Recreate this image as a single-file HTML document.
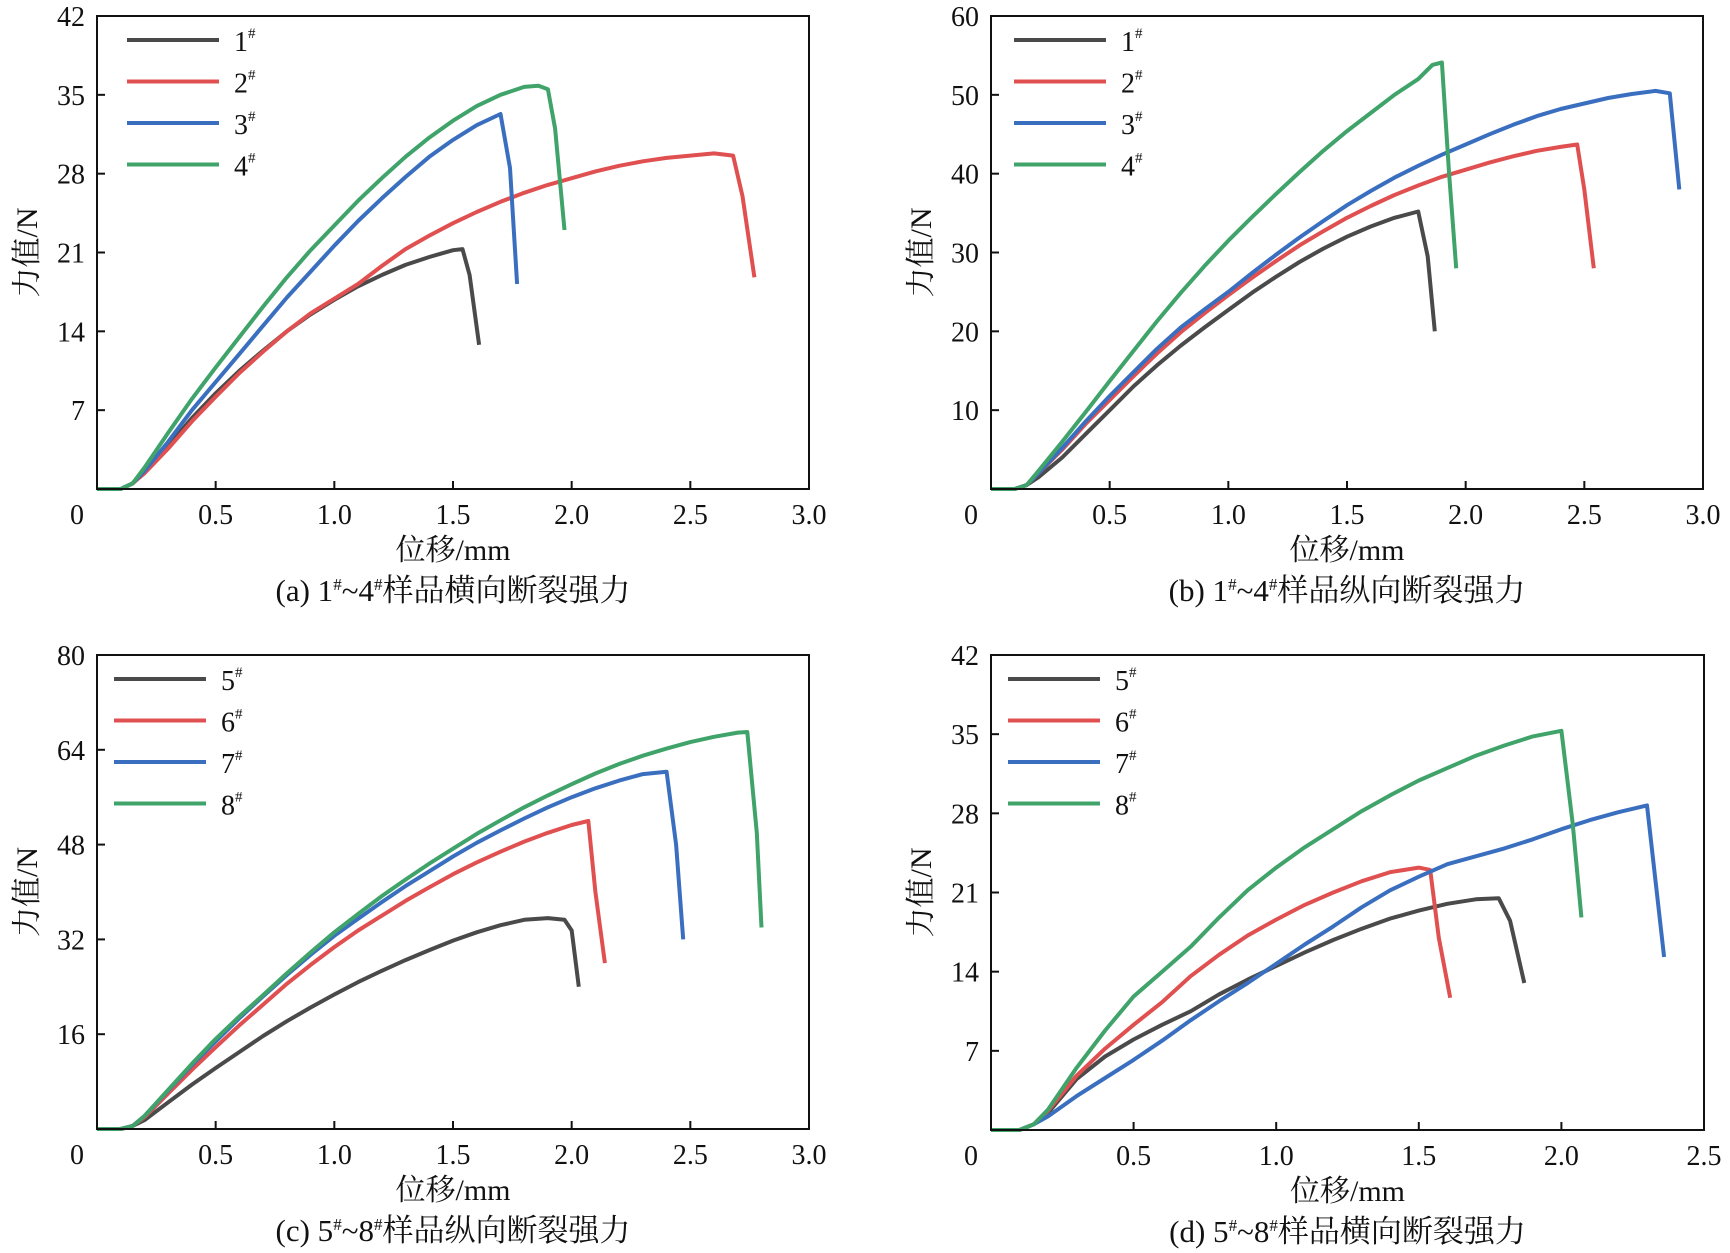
<!DOCTYPE html>
<html><head><meta charset="utf-8">
<style>
html,body{margin:0;padding:0;background:#fff;}
svg{display:block;}
text{font-family:"Liberation Serif","Noto Serif CJK SC","Noto Sans CJK SC",serif;fill:#111;}
</style></head>
<body>
<svg id="fig" width="1730" height="1253" viewBox="0 0 1730 1253" xmlns="http://www.w3.org/2000/svg"></svg>
<script>
const colors = ['#4a4a4a','#e05050','#3a6fc0','#3fa36a'];
const base = [[0,0],[0.1,0],[0.15,0.5]];
// Panel a
const aNames = ['1','2','3','4'];
const aS1 = [[0.2,1.5],[0.3,3.8],[0.4,6.3],[0.5,8.5],[0.6,10.5],[0.7,12.3],[0.8,14],[0.9,15.5],[1.0,16.8],[1.1,18],[1.2,19],[1.3,19.9],[1.4,20.6],[1.5,21.2],[1.54,21.3],[1.57,19],[1.61,12.8]];
const aS2 = [[0.2,1.4],[0.3,3.6],[0.4,6],[0.5,8.2],[0.6,10.3],[0.7,12.2],[0.8,14],[0.9,15.6],[1.0,16.9],[1.1,18.2],[1.2,19.8],[1.3,21.3],[1.4,22.5],[1.5,23.6],[1.6,24.6],[1.7,25.5],[1.8,26.3],[1.9,27],[2.0,27.6],[2.1,28.2],[2.2,28.7],[2.3,29.1],[2.4,29.4],[2.5,29.6],[2.6,29.8],[2.68,29.6],[2.72,26],[2.77,18.8]];
const aS3 = [[0.2,1.6],[0.3,4.2],[0.4,7],[0.5,9.5],[0.6,12],[0.7,14.5],[0.8,17],[0.9,19.3],[1.0,21.6],[1.1,23.8],[1.2,25.8],[1.3,27.7],[1.4,29.5],[1.5,31],[1.6,32.3],[1.7,33.3],[1.74,28.5],[1.77,18.2]];
const aS4 = [[0.2,1.9],[0.3,5],[0.4,8],[0.5,10.8],[0.6,13.5],[0.7,16.2],[0.8,18.8],[0.9,21.2],[1.0,23.4],[1.1,25.6],[1.2,27.6],[1.3,29.5],[1.4,31.2],[1.5,32.7],[1.6,34],[1.7,35],[1.8,35.7],[1.86,35.8],[1.9,35.5],[1.93,32],[1.97,23]];
const aYTicks = [7,14,21,28,35,42];
const aXTicks = [0.5,1.0,1.5,2.0,2.5,3.0];
// Panel b
const bNames = ['1','2','3','4'];
const bS1 = [[0.2,1.5],[0.3,4],[0.4,7],[0.5,10],[0.6,13],[0.7,15.7],[0.8,18.2],[0.9,20.5],[1.0,22.7],[1.1,24.9],[1.2,26.9],[1.3,28.8],[1.4,30.5],[1.5,32],[1.6,33.3],[1.7,34.4],[1.8,35.2],[1.84,29.5],[1.87,20]];
const bS2 = [[0.2,2],[0.3,5],[0.4,8.3],[0.5,11.3],[0.6,14.3],[0.7,17.2],[0.8,19.9],[0.9,22.3],[1.0,24.6],[1.1,26.8],[1.2,28.9],[1.3,30.9],[1.4,32.7],[1.5,34.4],[1.6,35.9],[1.7,37.3],[1.8,38.5],[1.9,39.6],[2.0,40.5],[2.1,41.4],[2.2,42.2],[2.3,42.9],[2.4,43.4],[2.47,43.7],[2.5,38],[2.54,28]];
const bS3 = [[0.2,2],[0.3,5.2],[0.4,8.6],[0.5,11.8],[0.6,14.8],[0.7,17.8],[0.8,20.5],[0.9,22.8],[1.0,25],[1.1,27.4],[1.2,29.7],[1.3,31.9],[1.4,34],[1.5,36],[1.6,37.8],[1.7,39.5],[1.8,41],[1.9,42.4],[2.0,43.7],[2.1,45],[2.2,46.2],[2.3,47.3],[2.4,48.2],[2.5,48.9],[2.6,49.6],[2.7,50.1],[2.8,50.5],[2.86,50.2],[2.9,38]];
const bS4 = [[0.2,2.3],[0.3,6],[0.4,9.8],[0.5,13.7],[0.6,17.5],[0.7,21.3],[0.8,24.9],[0.9,28.3],[1.0,31.5],[1.1,34.5],[1.2,37.4],[1.3,40.2],[1.4,42.9],[1.5,45.4],[1.6,47.7],[1.7,50],[1.8,52],[1.86,53.8],[1.9,54.1],[1.93,40],[1.96,28]];
const bYTicks = [10,20,30,40,50,60];
const bXTicks = [0.5,1.0,1.5,2.0,2.5,3.0];
// Panel c
const cNames = ['5','6','7','8'];
const cS1 = [[0.2,1.5],[0.3,4.5],[0.4,7.5],[0.5,10.3],[0.6,13],[0.7,15.7],[0.8,18.2],[0.9,20.5],[1.0,22.7],[1.1,24.8],[1.2,26.7],[1.3,28.5],[1.4,30.2],[1.5,31.8],[1.6,33.2],[1.7,34.4],[1.8,35.3],[1.9,35.6],[1.97,35.3],[2.0,33.5],[2.03,24]];
const cS2 = [[0.2,2],[0.3,6],[0.4,10],[0.5,13.8],[0.6,17.5],[0.7,21],[0.8,24.5],[0.9,27.7],[1.0,30.7],[1.1,33.5],[1.2,36],[1.3,38.5],[1.4,40.8],[1.5,43],[1.6,45],[1.7,46.8],[1.8,48.5],[1.9,50],[2.0,51.3],[2.07,52],[2.1,40],[2.14,28]];
const cS3 = [[0.2,2.2],[0.3,6.5],[0.4,10.8],[0.5,14.8],[0.6,18.7],[0.7,22.4],[0.8,26],[0.9,29.4],[1.0,32.6],[1.1,35.5],[1.2,38.3],[1.3,41],[1.4,43.5],[1.5,46],[1.6,48.3],[1.7,50.4],[1.8,52.4],[1.9,54.3],[2.0,56],[2.1,57.5],[2.2,58.8],[2.3,59.9],[2.4,60.3],[2.44,48],[2.47,32]];
const cS4 = [[0.2,2.2],[0.3,6.6],[0.4,11],[0.5,15.2],[0.6,19],[0.7,22.6],[0.8,26.3],[0.9,29.8],[1.0,33.2],[1.1,36.3],[1.2,39.3],[1.3,42.1],[1.4,44.8],[1.5,47.3],[1.6,49.8],[1.7,52.1],[1.8,54.3],[1.9,56.3],[2.0,58.2],[2.1,60],[2.2,61.6],[2.3,63],[2.4,64.2],[2.5,65.3],[2.6,66.2],[2.7,66.9],[2.74,67],[2.78,50],[2.8,34]];
const cYTicks = [16,32,48,64,80];
const cXTicks = [0.5,1.0,1.5,2.0,2.5,3.0];
// Panel d
const dNames = ['5','6','7','8'];
const dS1 = [[0.2,1.5],[0.3,4.5],[0.4,6.5],[0.5,8],[0.6,9.3],[0.7,10.5],[0.8,12],[0.9,13.3],[1.0,14.5],[1.1,15.7],[1.2,16.8],[1.3,17.8],[1.4,18.7],[1.5,19.4],[1.6,20],[1.7,20.4],[1.78,20.5],[1.82,18.5],[1.87,13]];
const dS2 = [[0.2,1.7],[0.3,4.8],[0.4,7.2],[0.5,9.3],[0.6,11.3],[0.7,13.6],[0.8,15.5],[0.9,17.2],[1.0,18.6],[1.1,19.9],[1.2,21],[1.3,22],[1.4,22.8],[1.5,23.2],[1.54,23],[1.57,17],[1.61,11.7]];
const dS3 = [[0.2,1.2],[0.3,3],[0.4,4.6],[0.5,6.2],[0.6,7.9],[0.7,9.7],[0.8,11.4],[0.9,13],[1.0,14.7],[1.1,16.4],[1.2,18],[1.3,19.7],[1.4,21.2],[1.5,22.4],[1.6,23.5],[1.7,24.2],[1.8,24.9],[1.9,25.7],[2.0,26.6],[2.1,27.4],[2.2,28.1],[2.3,28.7],[2.36,15.3]];
const dS4 = [[0.2,1.8],[0.3,5.5],[0.4,8.8],[0.5,11.8],[0.6,14],[0.7,16.2],[0.8,18.8],[0.9,21.2],[1.0,23.2],[1.1,25],[1.2,26.6],[1.3,28.2],[1.4,29.6],[1.5,30.9],[1.6,32],[1.7,33.1],[1.8,34],[1.9,34.8],[2.0,35.3],[2.04,27],[2.07,18.8]];
const dYTicks = [7,14,21,28,35,42];
const dXTicks = [0.5,1.0,1.5,2.0,2.5];

const NS='http://www.w3.org/2000/svg';
const svg=document.getElementById('fig');
function mk(tag,attrs,parent){const e=document.createElementNS(NS,tag);for(const k in attrs)e.setAttribute(k,attrs[k]);(parent||svg).appendChild(e);return e;}

function panel(id,L,R,T,B,xmax,ymax,xt,yt,series,names,caption,capPre,legX){
  const g=mk('g',{});
  
  
  const sx=v=>L+(R-L)*v/xmax, sy=v=>B-(B-T)*v/ymax;
  series.forEach((s,i)=>{
    const pts=base.concat(s).map(p=>sx(p[0]).toFixed(1)+','+sy(p[1]).toFixed(1)).join(' ');
    const pl=mk('polyline',{points:pts,fill:'none',stroke:colors[i],'stroke-width':4,'stroke-linejoin':'round'},g);
    
    
  });
  const fr=mk('rect',{x:L,y:T,width:R-L,height:B-T,fill:'none',stroke:'#111','stroke-width':2},g);
  
  
  xt.forEach(v=>{
    mk('line',{x1:sx(v),x2:sx(v),y1:B,y2:B-8,stroke:'#111','stroke-width':2},g);
    const t=mk('text',{x:sx(v),y:B+35,'font-size':28,'text-anchor':'middle'},g);
    t.textContent=v.toFixed(1);
    
    
  });
  const z=mk('text',{x:L-20,y:B+35,'font-size':28,'text-anchor':'middle'},g);z.textContent='0';
  
  
  yt.forEach(v=>{
    mk('line',{x1:L,x2:L+8,y1:sy(v),y2:sy(v),stroke:'#111','stroke-width':2},g);
    const t=mk('text',{x:L-12,y:sy(v)+10,'font-size':28,'text-anchor':'end'},g);
    t.textContent=v;
    
    
  });
  const cx=(L+R)/2;
  const xa=mk('text',{x:cx,y:B+71,'font-size':30,'text-anchor':'middle'},g);xa.textContent='位移/mm';
  
  
  const ya=mk('text',{x:0,y:0,'font-size':30,'text-anchor':'middle',transform:`translate(${L-60},${(T+B)/2}) rotate(-90)`},g);ya.textContent='力值/N';
  
  
  const cap=mk('text',{x:cx,y:B+112,'font-size':31,'text-anchor':'middle'},g);
  
  
  cap.innerHTML=capPre[0]+'<tspan font-size="17" dy="-11">#</tspan><tspan dy="11">~'+capPre[1]+'</tspan><tspan font-size="17" dy="-11">#</tspan><tspan dy="11">'+caption+'</tspan>';
  names.forEach((n,i)=>{
    const y=T+24+i*41.5;
    const lg=mk('g',{},g);
    
    
    mk('line',{x1:L+legX,x2:L+legX+92,y1:y,y2:y,stroke:colors[i],'stroke-width':4},lg);
    const t=mk('text',{x:L+legX+107,y:y+11,'font-size':28},lg);
    t.innerHTML=n+'<tspan font-size="15" dy="-13">#</tspan>';
  });
}
panel('a',97,809,16,489,3,42,aXTicks,aYTicks,[aS1,aS2,aS3,aS4],aNames,'样品横向断裂强力',['(a) 1','4'],30);
panel('b',991,1703,16,489,3,60,bXTicks,bYTicks,[bS1,bS2,bS3,bS4],bNames,'样品纵向断裂强力',['(b) 1','4'],23);
panel('c',97,809,655,1129,3,80,cXTicks,cYTicks,[cS1,cS2,cS3,cS4],cNames,'样品纵向断裂强力',['(c) 5','8'],17);
panel('d',991,1704,655,1130,2.5,42,dXTicks,dYTicks,[dS1,dS2,dS3,dS4],dNames,'样品横向断裂强力',['(d) 5','8'],17);
</script>
</body></html>
